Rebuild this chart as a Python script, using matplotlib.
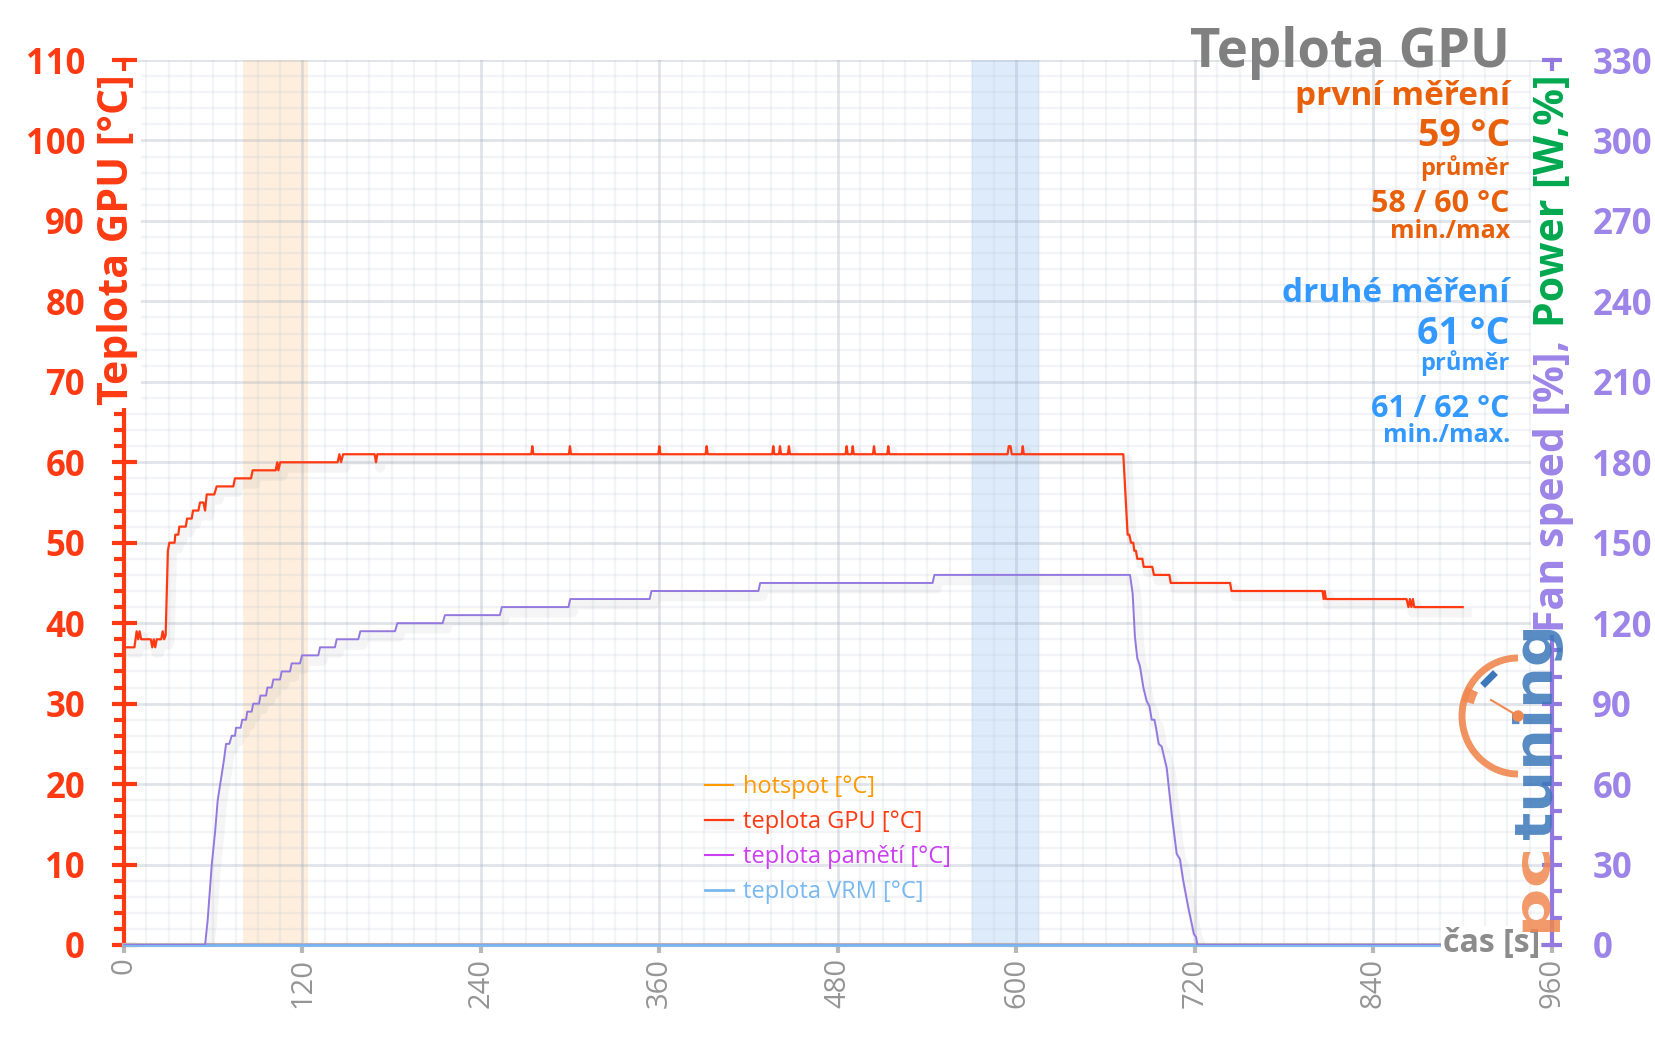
import numpy as np
import matplotlib.pyplot as plt
import matplotlib.patheffects as pe
from matplotlib.ticker import MultipleLocator
from matplotlib.patches import Arc, Circle, PathPatch
from matplotlib.textpath import TextPath
from matplotlib.font_manager import FontProperties
from matplotlib.transforms import Affine2D

plt.rcParams['font.family'] = ['Open Sans', 'DejaVu Sans']

W, H = 1656, 1043

# --- data: čas [s] / teplota GPU [°C]
gpu_time = [0, 7, 8.5, 9.5, 10.5, 11.5, 18, 19, 20, 21, 22, 25, 26, 27, 28, 29.5, 30.5, 34, 34.5,
            36.5, 37.2, 41.5, 42.4, 45.5, 46.4, 50, 51.1, 53.4, 54.5, 55.6, 60.7, 62.3, 73.5, 74.6,
            85.4, 86.5, 102, 103, 103.8, 105, 143.6, 144.8, 145.9, 147.3, 168.5, 169.4, 170.3,
            273.8, 274.5, 275.2, 299.1, 299.8, 300.5, 359.2, 359.9, 360.6, 391, 391.7, 392.4,
            435.8, 436.5, 437.2, 440.3, 441, 441.7, 446.3, 447, 447.7, 485.1, 485.8, 486.5,
            489.2, 489.9, 490.6, 503.5, 504.2, 504.9, 513.1, 513.8, 514.5, 594, 594.8, 596, 596.8,
            603.5, 604.2, 604.9, 671.8, 674.7, 675.8, 677, 678.5, 679.2, 680.3, 681.2, 684.6,
            685.5, 691.3, 692.4, 702.8, 703.7, 743.6, 744.5, 805.7, 806.5, 807.2, 808, 862.2,
            863.5, 864.5, 865.5, 866.5, 867.4, 900]
gpu_temp = [37, 37, 39, 38, 39, 38, 38, 37, 38, 37, 38, 38, 39, 38, 38.5, 49, 50, 50, 51,
            51, 52, 52, 53, 53, 54, 54, 55, 55, 54, 56, 56, 57, 57, 58,
            58, 59, 59, 60, 59, 60, 60, 61, 60, 61, 61, 60, 61,
            61, 62, 61, 61, 62, 61, 61, 62, 61, 61, 62, 61,
            61, 62, 61, 61, 62, 61, 61, 62, 61, 61, 62, 61,
            61, 62, 61, 61, 62, 61, 61, 62, 61, 61, 62, 62, 61,
            61, 62, 61, 61, 51, 51, 50, 50, 49, 49, 48, 48,
            47, 47, 46, 46, 45, 45, 44, 44, 43, 44, 43, 43,
            42, 43, 42, 43, 42, 42]

# fan speed (pravá osa)
fan_time = [0, 54.5, 56.2, 59, 61.2, 63, 67.2, 68.6, 70.8, 72.4, 74.6, 75.3, 78.4, 79.5, 82,
            82.9, 85.8, 86.9, 90.8, 91.7, 95.5, 96.4, 99.3, 100.4, 104.9, 106, 111.6, 112.7,
            118.3, 119.7, 130.6, 131.8, 141.8, 143, 157.5, 158.9, 182.2, 183.8, 214.2, 215.8,
            252.7, 254, 298.8, 300, 353.4, 354.6, 426.5, 427.7, 543.6, 544.8, 676.3, 678.1,
            679.6, 681.2, 683, 685.3, 687.5, 689.4, 690.9, 692.7, 693.8, 695.6, 697.6, 701,
            704.3, 707.7, 709.9, 712.1, 715.5, 719.3, 720.7, 721.6, 900]
fan_value = [0, 0, 9, 30, 42, 54, 69, 75, 75, 78, 78, 81, 81, 84, 84,
             87, 87, 90, 90, 93, 93, 96, 96, 99, 99, 102, 102, 105,
             105, 108, 108, 111, 111, 114, 114, 117, 117, 120, 120, 123,
             123, 126, 126, 129, 129, 132, 132, 135, 135, 138, 138, 131,
             115, 107, 104, 96, 91, 89, 84, 84, 81, 75, 74, 66,
             49, 34, 32, 24, 14, 4, 3, 0, 0]

zero_time = [0, 900]
hotspot = [0, 0]
mem_temp = [0, 0]
vrm_temp = [0, 0]

band_first = (80, 124)
band_second = (570, 615)

x_ticks = list(range(0, 961, 120))
left_ticks = list(range(0, 111, 10))
right_ticks = list(range(0, 331, 30))

RED = '#ff3a12'
PURPLE = '#9378e0'
PURPLE_TXT = '#9d84e8'
GREEN = '#00a84f'
ORANGE_TXT = '#e8600a'
BLUE_TXT = '#3399ff'
GRAY = '#808080'

fig = plt.figure(figsize=(W / 100, H / 100), dpi=100)
ax = fig.add_axes([124 / W, 1 - 945 / H, (1552 - 124) / W, (945 - 60) / H])
ax2 = ax.twinx()


def fx(x):
    return x / W


def fy(y):
    return 1 - y / H


shadow = [pe.SimpleLineShadow(offset=(3, -4), shadow_color='#808080', alpha=0.08, linewidth=7),
          pe.Normal()]

ax.axvspan(*band_first, color='#fdeedd', zorder=0.1, lw=0)
ax.axvspan(*band_second, color='#ddebfb', zorder=0.1, lw=0)

l_hot, = ax.plot(zero_time, hotspot, color='#ff9900', lw=1.5, label='hotspot [°C]', zorder=3, clip_on=False)
l_gpu, = ax.plot(gpu_time, gpu_temp, color=RED, lw=1.6, label='teplota GPU [°C]', zorder=4,
                 path_effects=shadow)
l_mem, = ax.plot(zero_time, mem_temp, color='#cc3ef0', lw=1.5, label='teplota pamětí [°C]', zorder=3, clip_on=False)
l_vrm, = ax.plot(zero_time, vrm_temp, color='#7ab8f0', lw=2, label='teplota VRM [°C]', zorder=3, clip_on=False)
ax2.plot(fan_time, fan_value, color=PURPLE, lw=1.4, path_effects=shadow)

ax.set_xlim(0, 960)
ax.set_ylim(0, 110)
ax2.set_ylim(0, 330)

ax.set_xticks(x_ticks)
ax.xaxis.set_minor_locator(MultipleLocator(15))
ax.set_yticks(left_ticks)
ax.yaxis.set_minor_locator(MultipleLocator(2))
ax2.set_yticks(right_ticks)
ax2.yaxis.set_minor_locator(MultipleLocator(10))

ax.set_axisbelow(True)
ax.grid(which='major', color='#9aa8bc', alpha=0.3, lw=2)
ax.grid(which='minor', color='#c5cedb', alpha=0.22, lw=1.6)

for s in ['top', 'right']:
    ax.spines[s].set_visible(False)
for s in ['top', 'left', 'bottom']:
    ax2.spines[s].set_visible(False)
ax.spines['left'].set_color(RED)
ax.spines['left'].set_linewidth(3)
ax.spines['bottom'].set_color('#b8b8b8')
ax.spines['bottom'].set_linewidth(3)
ax2.spines['right'].set_color(PURPLE)
ax2.spines['right'].set_linewidth(3)

ax.tick_params(axis='y', which='major', direction='inout', length=18, width=3, color=RED,
               labelcolor=RED, labelsize=25, pad=19)
ax.tick_params(axis='y', which='minor', direction='out', length=7, width=3, color=RED)
ax.tick_params(axis='x', which='major', direction='out', length=6, width=3, color='#b8b8b8',
               labelcolor='#959595', labelsize=21, pad=3, labelrotation=90)
ax.tick_params(axis='x', which='minor', length=0)
ax2.tick_params(axis='y', which='major', direction='inout', length=14, width=3, color=PURPLE,
                labelcolor=PURPLE_TXT, labelsize=25, pad=22)
ax2.tick_params(axis='y', which='minor', direction='out', length=7, width=3, color=PURPLE)
for t in ax.get_yticklabels() + ax2.get_yticklabels():
    t.set_fontweight('bold')

# osy - popisky
fig.text(fx(118), fy(74), 'Teplota GPU [°C]', rotation=90, ha='center', va='top', color=RED,
         fontsize=29.5, fontweight='bold', bbox=dict(facecolor='white', edgecolor='none', pad=2))
t_pow = fig.text(fx(1554), fy(74), 'Power [W,%]', rotation=90, ha='center', va='top', color=GREEN,
                 fontsize=29.5, fontweight='bold', bbox=dict(facecolor='white', edgecolor='none', pad=2))
fig.canvas.draw()
bb = t_pow.get_window_extent()
fig.text(fx(1554), bb.y0 / H - 0.002, 'Fan speed [%], ', rotation=90, ha='center', va='top',
         color=PURPLE_TXT, fontsize=29.5, fontweight='bold',
         bbox=dict(facecolor='white', edgecolor='none', pad=2))
fig.text(fx(1540), fy(944), 'čas [s]', ha='right', va='center', color='#8c8c8c', fontsize=23,
         fontweight='bold', bbox=dict(facecolor='white', edgecolor='none', pad=1))

# titulek a statistiky
stats = [('Teplota GPU', 67, 38, GRAY),
         ('první měření', 105, 24, ORANGE_TXT),
         ('59 °C', 146, 27, ORANGE_TXT),
         ('průměr', 175, 17, ORANGE_TXT),
         ('58 / 60 °C', 212, 22, ORANGE_TXT),
         ('min./max', 238, 18, ORANGE_TXT),
         ('druhé měření', 302, 24, BLUE_TXT),
         ('61 °C', 344, 27, BLUE_TXT),
         ('průměr', 370, 17, BLUE_TXT),
         ('61 / 62 °C', 417, 22, BLUE_TXT),
         ('min./max.', 442, 18, BLUE_TXT)]
for txt, yb, size, col in stats:
    fig.text(fx(1510), fy(yb), txt, ha='right', va='baseline', fontsize=size, fontweight='bold',
             color=col)

ax.legend(handles=[l_hot, l_gpu, l_mem, l_vrm], loc='upper left',
          bbox_to_anchor=(fx(705), fy(775)), bbox_transform=fig.transFigure, frameon=False,
          borderpad=0, borderaxespad=0, handlelength=1.2, handletextpad=0.4, labelspacing=0.47,
          fontsize=17, labelcolor='linecolor')

# logo pctuning
lax = fig.add_axes([0, 0, 1, 1], zorder=10)
lax.set_xlim(0, W)
lax.set_ylim(0, H)
lax.axis('off')
lax.patch.set_alpha(0)


def logo_text(s, x_right, y_bottom, length, height, color):
    tp = TextPath((0, 0), s, size=1, prop=FontProperties(family='DejaVu Sans', weight='bold'))
    e = tp.get_extents()
    tr = (Affine2D().translate(-e.x0, -e.y0).scale(length / e.width, height / e.height)
          .rotate_deg(90).translate(x_right, y_bottom))
    lax.add_patch(PathPatch(tr.transform_path(tp), facecolor=color, lw=0, alpha=0.85))


logo_text('pc', 1560, H - 932, 80, 38, '#f08850')
logo_text('tuning', 1563, H - 840, 210, 51, '#3c78b9')
cx, cy = 1518, H - 716
lax.add_patch(Arc((cx, cy), 112, 116, theta1=90, theta2=270, color='#f08850', lw=5, alpha=0.9))
lax.add_patch(Arc((cx, cy), 104, 108, theta1=150, theta2=165, color='#f08850', lw=9, alpha=0.9))
lax.plot([cx, 1491], [cy, H - 700], color='#f08850', lw=1.5)
lax.add_patch(Circle((cx, cy), 5, color='#f08850'))
lax.plot([1485, 1493], [H - 683, H - 675], color='#3c78b9', lw=5)

fig.savefig('out.png', dpi=100)
